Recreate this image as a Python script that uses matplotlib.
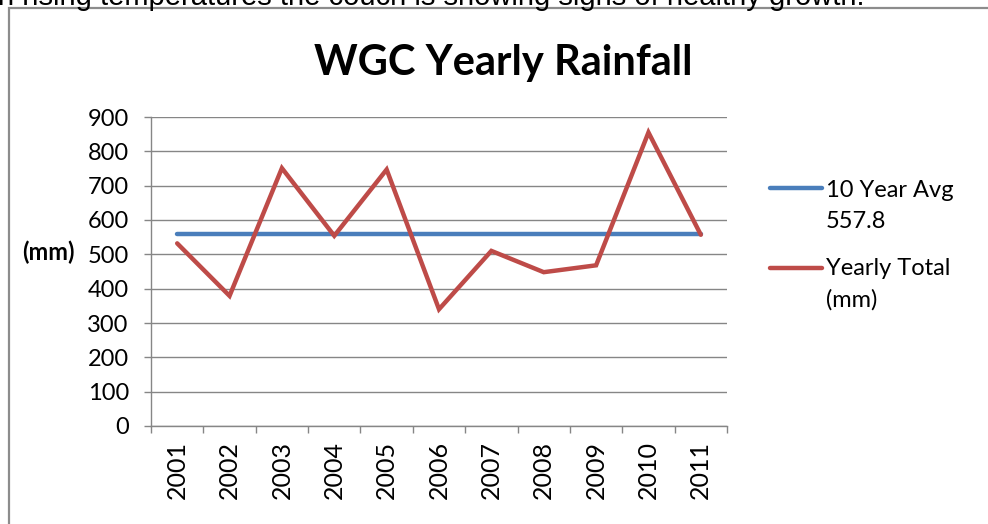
import matplotlib
matplotlib.use("Agg")
import matplotlib.pyplot as plt
from matplotlib.lines import Line2D
from matplotlib.patches import Rectangle

# data
years = ["2001", "2002", "2003", "2004", "2005", "2006",
         "2007", "2008", "2009", "2010", "2011"]
yearly_total = [532, 379, 751, 554, 747, 340, 510, 448, 468, 855, 557]
ten_year_avg = 557.8
series_names = ["10 Year Avg\n557.8", "Yearly Total\n(mm)"]
y_ticks = [0, 100, 200, 300, 400, 500, 600, 700, 800, 900]

W, H = 988, 524
blue = "#4a7ebb"
red = "#be4b48"
grid_col = "#868686"
font = "Lato"

fig = plt.figure(figsize=(W / 100, H / 100), dpi=100)

def fx(px):
    return px / W

def fy(py):
    return 1 - py / H

# clipped line of document text at the top
fig.text(fx(-2), fy(5), "n rising temperatures the couch is showing signs of healthy growth.",
         family="Liberation Sans", fontsize=21, va="baseline", ha="left")

# chart border
fig.add_artist(Rectangle((fx(9), fy(560)), fx(1000), fy(8) - fy(560),
                         transform=fig.transFigure, fill=False,
                         edgecolor="#8c8c8c", lw=1.6))

ax = fig.add_axes([fx(151), fy(426), fx(727) - fx(151), fy(117) - fy(426)])

x = list(range(len(years)))
ax.plot(x, [ten_year_avg] * len(years), color=blue, lw=3.2, solid_capstyle="round")
ax.plot(x, yearly_total, color=red, lw=3.2, solid_capstyle="round",
        solid_joinstyle="miter")

ax.set_xlim(-0.5, len(years) - 0.5)
ax.set_ylim(0, 900)
ax.set_yticks(y_ticks)
ax.set_yticklabels([str(v) for v in y_ticks], family=font, fontsize=17)
ax.set_xticks(x)
ax.set_xticklabels(years, rotation=90, family=font, fontsize=18)
ax.set_xticks([i - 0.5 for i in range(len(years) + 1)], minor=True)

ax.tick_params(axis="x", which="major", length=0, pad=11)
ax.tick_params(axis="x", which="minor", length=5, width=1, color=grid_col)
ax.tick_params(axis="y", length=5, width=1, color=grid_col, pad=11)

ax.grid(axis="y", color=grid_col, lw=1)
ax.set_axisbelow(True)
for s in ["top", "right"]:
    ax.spines[s].set_visible(False)
for s in ["left", "bottom"]:
    ax.spines[s].set_color(grid_col)
    ax.spines[s].set_linewidth(1)

ax.set_ylabel("(mm)", rotation=0, family=font, fontsize=17, fontweight="bold",
              va="center", ha="center")
ax.yaxis.set_label_coords((48 - 151) / 576, (426 - 252) / 309)

fig.text(fx(503), fy(75), "WGC Yearly Rainfall", family=font, fontweight="bold",
         fontsize=30, ha="center", va="baseline")

# legend
for (ly, col, name, last_base) in [(188, blue, series_names[0], 228),
                                   (268, red, series_names[1], 307)]:
    fig.add_artist(Line2D([fx(770), fx(822)], [fy(ly), fy(ly)],
                          transform=fig.transFigure, color=col, lw=3.2,
                          solid_capstyle="round"))
    fig.text(fx(826), fy(last_base), name, family=font, fontsize=17,
             va="baseline", ha="left", linespacing=1.6)

fig.savefig("out.png", dpi=100)
